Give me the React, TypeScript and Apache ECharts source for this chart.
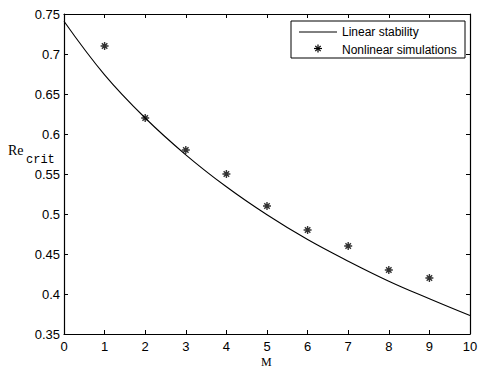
import React, { useEffect, useRef } from "react";
import * as echarts from "echarts";

const lineX = [0, 1, 2, 3, 4, 5, 6, 7, 8, 9, 10];
const lineY = [0.741, 0.674, 0.62, 0.574, 0.534, 0.499, 0.468, 0.441, 0.416, 0.394, 0.373];
const simX = [1, 2, 3, 4, 5, 6, 7, 8, 9];
const simY = [0.71, 0.62, 0.58, 0.55, 0.51, 0.48, 0.46, 0.43, 0.42];
const legendNames = ["Linear stability", "Nonlinear simulations"];

const STAR = "path://M5 0 L5 10 M0 5 L10 5 M1.6 1.6 L8.4 8.4 M8.4 1.6 L1.6 8.4";

export default function App() {
  const ref = useRef<HTMLDivElement>(null);
  useEffect(() => {
    const chart = echarts.init(ref.current!, null, { renderer: "svg" });
    const fmt = (v: number) => String(+v.toFixed(2));
    const axisCommon = {
      type: "value" as const,
      axisLine: { show: true, onZero: false, lineStyle: { color: "#000", width: 1.2 } },
      axisTick: { show: true, inside: true, length: 4, lineStyle: { color: "#000" } },
      splitLine: { show: false },
    };
    const labelStyle = { color: "#000", fontFamily: "Liberation Sans, Arial", fontSize: 13 };
    const lx = 291, ly = 21;
    chart.setOption({
      animation: false,
      backgroundColor: "#fff",
      grid: { left: 64, right: 29, top: 14, bottom: 42 },
      xAxis: [
        { ...axisCommon, min: 0, max: 10, interval: 1, position: "bottom",
          axisLabel: { ...labelStyle, margin: 6, formatter: fmt } },
        { ...axisCommon, min: 0, max: 10, interval: 1, position: "top", axisLabel: { show: false } },
      ],
      yAxis: [
        { ...axisCommon, min: 0.35, max: 0.75, interval: 0.05, position: "left",
          axisLabel: { ...labelStyle, margin: 4, formatter: fmt } },
        { ...axisCommon, min: 0.35, max: 0.75, interval: 0.05, position: "right", axisLabel: { show: false } },
      ],
      series: [
        {
          name: legendNames[0], type: "line", smooth: 0.4, showSymbol: false,
          data: lineX.map((x, i) => [x, lineY[i]]),
          lineStyle: { color: "#000", width: 1.1 },
        },
        {
          name: legendNames[1], type: "scatter", symbol: STAR, symbolSize: 8,
          data: simX.map((x, i) => [x, simY[i]]),
          itemStyle: { color: "none", borderColor: "#000", borderWidth: 1.4 },
        },
      ],
      graphic: [
        { type: "text", left: 8, top: 143, style: { text: "Re", fontFamily: "Liberation Serif, Times New Roman", fontSize: 14, fill: "#000" } },
        { type: "text", left: 26, top: 154, style: { text: "crit", fontFamily: "Liberation Mono, Courier New", fontSize: 12, fill: "#000" } },
        { type: "text", left: 261, top: 356, style: { text: "M", fontFamily: "Liberation Serif, Times New Roman", fontSize: 12, fill: "#000" } },
        { type: "rect", z: 100, shape: { x: lx, y: ly, width: 174, height: 37 }, style: { fill: "#fff", stroke: "#000", lineWidth: 1 } },
        { type: "line", z: 101, shape: { x1: 299, y1: 32, x2: 337, y2: 32 }, style: { stroke: "#000", lineWidth: 1 } },
        { type: "text", z: 101, x: 342, y: 32, style: { text: legendNames[0], fontFamily: "Liberation Sans, Arial", fontSize: 12, fill: "#000", verticalAlign: "middle" } },
        { type: "line", z: 101, shape: { x1: 318, y1: 44.5, x2: 318, y2: 52.5 }, style: { stroke: "#000", lineWidth: 1.2 } },
        { type: "line", z: 101, shape: { x1: 314, y1: 48.5, x2: 322, y2: 48.5 }, style: { stroke: "#000", lineWidth: 1.2 } },
        { type: "line", z: 101, shape: { x1: 315.3, y1: 45.8, x2: 320.7, y2: 51.2 }, style: { stroke: "#000", lineWidth: 1.2 } },
        { type: "line", z: 101, shape: { x1: 320.7, y1: 45.8, x2: 315.3, y2: 51.2 }, style: { stroke: "#000", lineWidth: 1.2 } },
        { type: "text", z: 101, x: 342, y: 50, style: { text: legendNames[1], fontFamily: "Liberation Sans, Arial", fontSize: 12, fill: "#000", verticalAlign: "middle" } },
      ],
    });
    return () => chart.dispose();
  }, []);
  return <div ref={ref} style={{ width: 499, height: 376, position: "absolute", left: 0, top: 0 }} />;
}
